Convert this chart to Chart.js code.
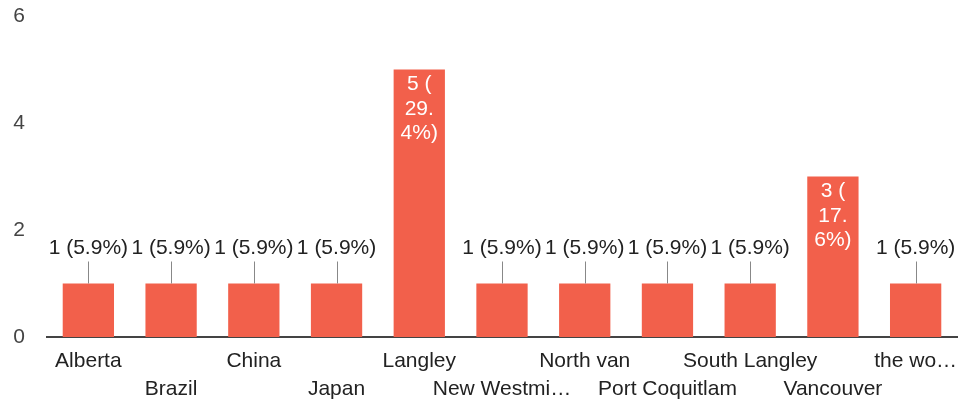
<!DOCTYPE html>
<html>
<head>
<meta charset="utf-8">
<script src="https://cdn.jsdelivr.net/npm/chart.js@4"></script>
<style>
  html, body { margin: 0; padding: 0; background: #fff; }
  #wrap { width: 958px; height: 404px; }
</style>
</head>
<body>
<div id="wrap"><canvas id="answersChart"></canvas></div>
<script>
const categories = ['Alberta', 'Brazil', 'China', 'Japan', 'Langley', 'New Westmi\u2026',
    'North van', 'Port Coquitlam', 'South Langley', 'Vancouver', 'the wo\u2026'];
const counts = [1, 1, 1, 1, 5, 1, 1, 1, 1, 3, 1];
const yTicks = [0, 2, 4, 6];

const FONT = '"Liberation Sans", Arial, sans-serif';
const BAR_COLOR = '#f2604b';
const total = counts.reduce((a, b) => a + b, 0);

function labelText(v) {
    return v + ' (' + (v / total * 100).toFixed(1) + '%)';
}

// draws "n (x%)" above small bars with a leader line, or wrapped white text inside tall ones
const valueLabels = {
    id: 'valueLabels',
    afterDatasetsDraw(chart) {
        const ctx = chart.ctx;
        const meta = chart.getDatasetMeta(0);
        ctx.save();
        ctx.font = '21px ' + FONT;
        ctx.textAlign = 'center';
        ctx.textBaseline = 'middle';
        meta.data.forEach((bar, i) => {
            const txt = labelText(counts[i]);
            const h = bar.base - bar.y;
            if (h > 100) {
                // google style char wrap, 3 chars per line
                const lines = txt.match(/.{1,3}/g);
                ctx.fillStyle = '#ffffff';
                lines.forEach((ln, k) => ctx.fillText(ln, bar.x, bar.y + 15 + k * 24.5));
            } else {
                ctx.strokeStyle = '#888';
                ctx.lineWidth = 1;
                ctx.beginPath();
                ctx.moveTo(Math.round(bar.x) + 0.5, bar.y);
                ctx.lineTo(Math.round(bar.x) + 0.5, bar.y - 22);
                ctx.stroke();
                ctx.fillStyle = '#222';
                ctx.fillText(txt, bar.x, bar.y - 35);
            }
        });
        ctx.restore();
    }
};

new Chart(document.getElementById('answersChart'), {
    type: 'bar',
    data: {
        labels: categories,
        datasets: [{
            data: counts,
            backgroundColor: BAR_COLOR,
            borderWidth: 0,
            barPercentage: 0.62,
            categoryPercentage: 1
        }]
    },
    options: {
        responsive: true,
        maintainAspectRatio: false,
        animation: false,
        layout: { padding: { top: 16, right: 1, bottom: 0, left: 0 } },
        plugins: {
            legend: { display: false },
            tooltip: { enabled: false }
        },
        scales: {
            x: {
                afterFit: s => { s.height = 67; s.paddingLeft = 0; s.paddingRight = 0; },
                grid: { display: false, drawTicks: false },
                border: { display: true, color: '#444', width: 2 },
                ticks: {
                    autoSkip: false,
                    maxRotation: 0,
                    minRotation: 0,
                    padding: 10,
                    color: '#222',
                    font: { family: FONT, size: 21, lineHeight: 1.33 },
                    callback: (v, i) => i % 2 ? ['', categories[i]] : [categories[i]]
                }
            },
            y: {
                min: 0,
                max: 6,
                afterBuildTicks: s => { s.ticks = yTicks.map(v => ({ value: v })); },
                afterFit: s => { s.width = 47; s.paddingTop = 0; s.paddingBottom = 0; },
                grid: { display: false, drawTicks: false },
                border: { display: false },
                ticks: {
                    padding: 22,
                    color: '#444',
                    font: { family: FONT, size: 21 }
                }
            }
        }
    },
    plugins: [valueLabels]
});
</script>
</body>
</html>
